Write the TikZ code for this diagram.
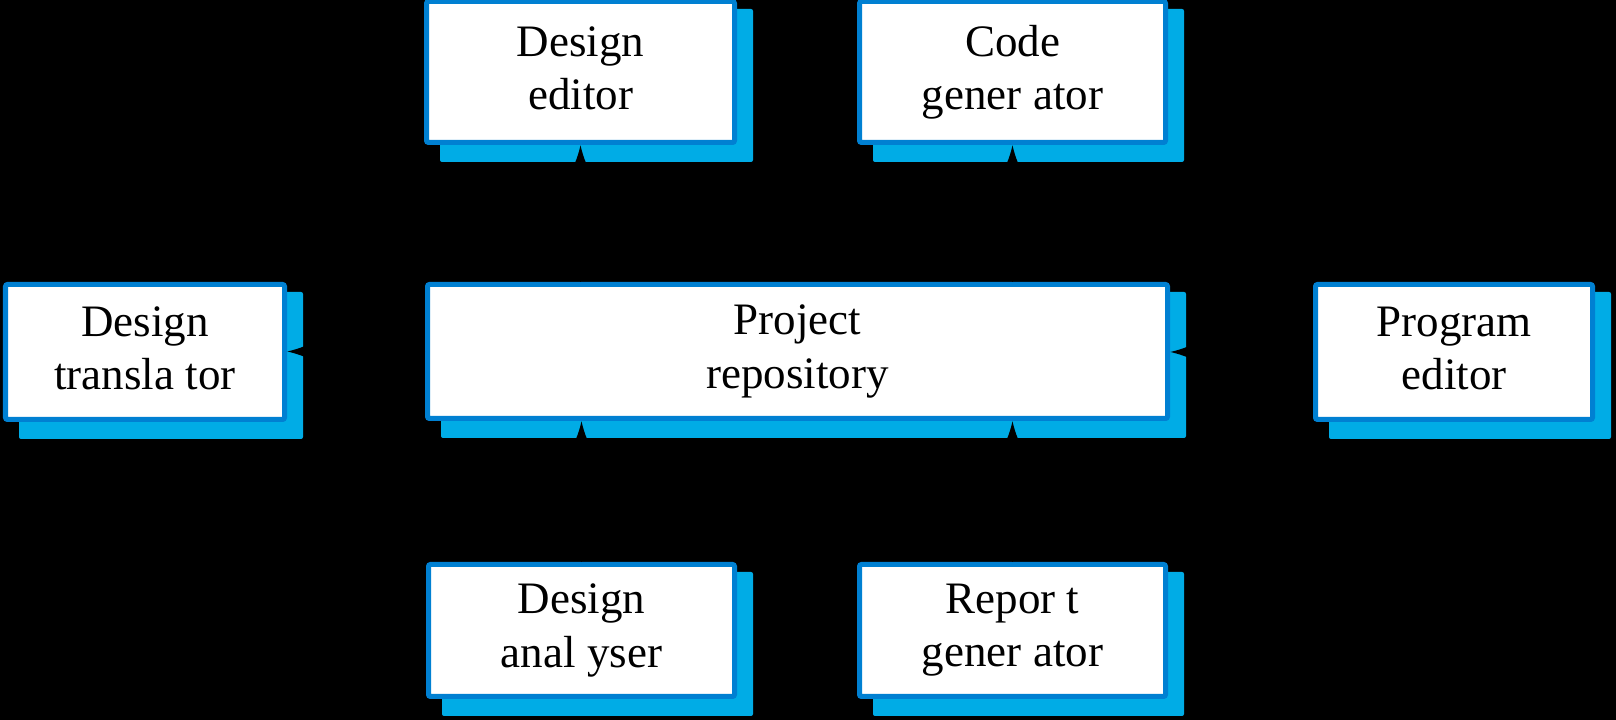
\documentclass[tikz,border=0pt]{standalone}
\usepackage{fontspec}
\setmainfont{Liberation Serif}
\usetikzlibrary{arrows.meta, backgrounds}

\definecolor{toolborder}{RGB}{0,128,210}
\definecolor{toolshadow}{RGB}{0,172,230}

\tikzset{
  tool/.style={draw=toolborder, line width=0.05cm, fill=white, rounded corners=0.02cm,
    align=center, inner sep=0pt, font=\fontsize{12.8}{15.1}\selectfont,
    execute at begin node=\rule{0pt}{0.34cm},
    execute at end node=\rule[-0.07cm]{0pt}{0.07cm}},
  flow/.style={-{Latex[length=0.2cm,width=0.13cm]}, black},
}

\begin{document}
\begin{tikzpicture}

\useasboundingbox (0,0) rectangle (16.16,7.2);

\node (dedit) at (5.805,6.48) [tool,minimum width=3.08cm,minimum height=1.41cm]
{Design\\editor};
\node (codegen) at (10.125,6.48) [tool,minimum width=3.06cm,minimum height=1.41cm]
{Code\\gener ator};
\node (dtrans) at (1.45,3.68) [tool,minimum width=2.79cm,minimum height=1.35cm]
{Design\\transla tor};
\node (repo) at (7.975,3.685) [tool,minimum width=7.40cm,minimum height=1.34cm]
{Project\\repository};
\node (pedit) at (14.54,3.68) [tool,minimum width=2.77cm,minimum height=1.35cm]
{Program\\editor};
\node (danal) at (5.815,0.895) [tool,minimum width=3.06cm,minimum height=1.32cm]
{Design\\anal yser};
\node (rgen) at (10.125,0.895) [tool,minimum width=3.06cm,minimum height=1.32cm]
{Repor t\\gener ator};

% backdrop and shadows
\begin{scope}[on background layer]
\fill[black] (0,0) rectangle (16.16,7.2);
\foreach \n in {dedit,codegen,dtrans,repo,pedit,danal,rgen}
  \fill[toolshadow,rounded corners=0.02cm] ([shift={(0.16,-0.10)}]\n.north west)
    rectangle ([shift={(0.16,-0.17)}]\n.south east);
\end{scope}

% links to the repository
\draw[flow] (repo.north -| dedit.south) -- (dedit.south);
\draw[flow] (repo.north -| codegen.south) -- (codegen.south);
\draw[flow] (danal.north) -- (danal.north |- repo.south);
\draw[flow] (rgen.north) -- (rgen.north |- repo.south);
\draw[flow] (repo.west) -- (repo.west -| dtrans.east);
\draw[flow] (pedit.west) -- (pedit.west -| repo.east);

\end{tikzpicture}
\end{document}
